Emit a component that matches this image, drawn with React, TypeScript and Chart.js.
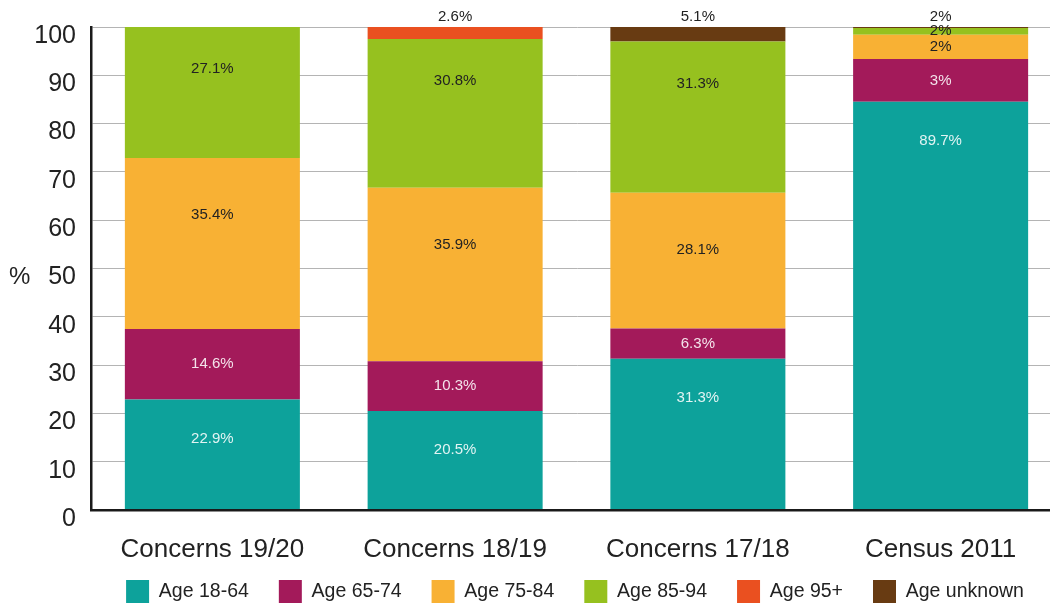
import React, { useEffect, useRef } from "react";
import { Chart, registerables } from "chart.js";

Chart.register(...registerables);

// ---- data ----
const categories = ["Concerns 19/20", "Concerns 18/19", "Concerns 17/18", "Census 2011"];
const seriesNames = ["Age 18-64", "Age 65-74", "Age 75-84", "Age 85-94", "Age 95+", "Age unknown"];

const age1864 = [22.9, 20.5, 31.3, 84.5];
const age6574 = [14.6, 10.3, 6.3, 8.9];
const age7584 = [35.4, 35.9, 28.1, 5.0];
const age8594 = [27.1, 30.8, 31.3, 1.4];
const age95plus = [0, 2.6, 0, 0];
const ageUnknown = [0, 0, 5.1, 0.3];

const label1864 = ["22.9%", "20.5%", "31.3%", "89.7%"];
const label6574 = ["14.6%", "10.3%", "6.3%", "3%"];
const label7584 = ["35.4%", "35.9%", "28.1%", "2%"];
const label8594 = ["27.1%", "30.8%", "31.3%", "2%"];
const label95plus = ["", "2.6%", "", ""];
const labelUnknown = ["", "", "5.1%", "2%"];

const yTicks = [0, 10, 20, 30, 40, 50, 60, 70, 80, 90, 100];

// ---- styles ----
const FONT = "'Liberation Sans', Arial, Helvetica, sans-serif";
const colors = ["#0DA29B", "#A31A5A", "#F8B134", "#96C11F", "#EA5020", "#683B12"];
const labelColors = [
  "rgba(255,255,255,0.88)",
  "rgba(255,255,255,0.88)",
  "#222222",
  "#222222",
  "#222222",
  "#222222",
];
const labelDepth = [39, 38, 57, 42, 0, 0];
const outside = [false, false, false, false, true, true];

const labelPlugin = {
  id: "segmentLabels",
  afterDatasetsDraw(chart: any) {
    const ctx = chart.ctx;
    const area = chart.chartArea;
    ctx.save();
    ctx.font = `15px ${FONT}`;
    ctx.textAlign = "center";
    ctx.textBaseline = "middle";
    chart.data.datasets.forEach((ds: any, i: number) => {
      const meta = chart.getDatasetMeta(i);
      meta.data.forEach((el: any, j: number) => {
        const t = ds.segText[j];
        if (!t) return;
        const { x, y, base } = el.getProps(["x", "y", "base"], true);
        let ly: number;
        if (ds.outside) {
          ly = area.top - 10;
        } else {
          const top = Math.max(Math.min(y, base), area.top);
          const bottom = Math.max(y, base);
          const h = bottom - top;
          ly = top + Math.min(h / 2, ds.labelDepth);
        }
        ctx.fillStyle = ds.labelColor;
        ctx.fillText(t, x, ly);
      });
    });
    ctx.restore();
  },
};

const axisTitlePlugin = {
  id: "percentTitle",
  afterDraw(chart: any) {
    const ctx = chart.ctx;
    const area = chart.chartArea;
    ctx.save();
    ctx.font = `24px ${FONT}`;
    ctx.fillStyle = "#222222";
    ctx.textAlign = "left";
    ctx.textBaseline = "middle";
    ctx.fillText("%", 9, (area.top + area.bottom) / 2 + 9);
    ctx.restore();
  },
};

export default function App() {
  const ref = useRef<HTMLCanvasElement | null>(null);

  useEffect(() => {
    if (!ref.current) return;
    const values = [age1864, age6574, age7584, age8594, age95plus, ageUnknown];
    const texts = [label1864, label6574, label7584, label8594, label95plus, labelUnknown];
    const chart = new Chart(ref.current, {
      type: "bar",
      data: {
        labels: categories,
        datasets: seriesNames.map((name, i) => ({
          label: name,
          data: values[i],
          backgroundColor: colors[i],
          borderWidth: 0,
          barPercentage: 0.721,
          categoryPercentage: 1,
          clip: 0,
          segText: texts[i],
          labelColor: labelColors[i],
          labelDepth: labelDepth[i],
          outside: outside[i],
        })) as any,
      },
      options: {
        responsive: false,
        devicePixelRatio: 1,
        animation: false,
        layout: { padding: { top: 27, left: 88, right: 88, bottom: 0 } },
        plugins: {
          tooltip: { enabled: false },
          legend: {
            position: "bottom",
            labels: {
              boxWidth: 23,
              boxHeight: 23,
              padding: 30,
              color: "#222222",
              font: { family: FONT, size: 19.5 },
            },
          },
        },
        scales: {
          x: {
            stacked: true,
            grid: { display: false },
            border: { display: true, color: "#1a1a1a", width: 2.5, z: 1 },
            ticks: { color: "#222222", padding: 16, font: { family: FONT, size: 26 } },
            afterFit: (scale: any) => {
              scale.height = 40;
              scale._computeLabelArea = () => undefined;
            },
          },
          y: {
            stacked: true,
            min: 0,
            max: 100,
            afterBuildTicks: (scale: any) => {
              scale.ticks = yTicks.map((v) => ({ value: v }));
            },
            grid: { color: "#b4b4b4", lineWidth: 1, drawTicks: false },
            border: { display: true, color: "#1a1a1a", width: 2.5, z: 1 },
            ticks: {
              color: "#222222",
              padding: 15,
              labelOffset: 9,
              font: { family: FONT, size: 25 },
            },
            afterFit: (scale: any) => {
              scale.width = 3;
              scale.paddingTop = 0;
              scale.paddingBottom = 0;
              scale._computeLabelArea = () => undefined;
            },
          },
        },
      },
      plugins: [labelPlugin, axisTitlePlugin],
    });
    return () => chart.destroy();
  }, []);

  return (
    <div
      style={{
        position: "absolute",
        left: 0,
        top: 0,
        width: 1050,
        height: 607,
        overflow: "hidden",
        background: "#ffffff",
      }}
    >
      <canvas ref={ref} width={1150} height={613} style={{ display: "block", width: 1150, height: 613 }} />
    </div>
  );
}
